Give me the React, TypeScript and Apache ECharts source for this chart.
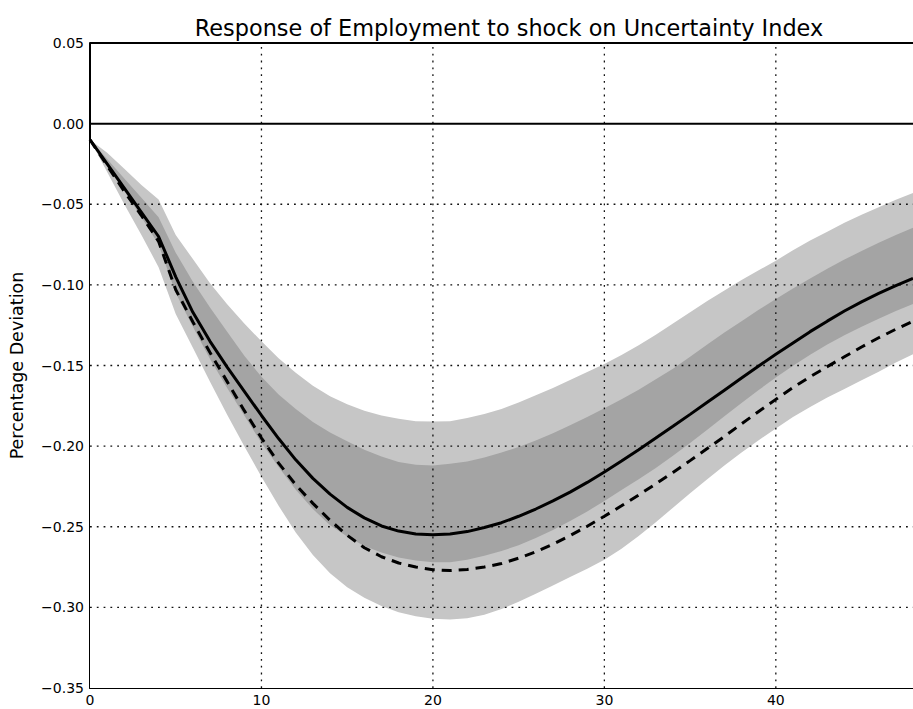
import React, { useEffect, useRef } from "react";
import * as echarts from "echarts";

const periods: number[] = Array.from({ length: 49 }, (_, i) => i);

const medianResponse: number[] = [
  -0.010, -0.025, -0.040, -0.055, -0.070, -0.095, -0.117, -0.135, -0.151, -0.166,
  -0.181, -0.1953, -0.2085, -0.220, -0.2298, -0.238, -0.2445, -0.2495, -0.2527, -0.2545,
  -0.255, -0.2545, -0.253, -0.2505, -0.2475, -0.2435, -0.239, -0.234, -0.2285, -0.2225,
  -0.216, -0.2092, -0.2022, -0.195, -0.1877, -0.1803, -0.1728, -0.1653, -0.1578, -0.1503,
  -0.143, -0.136, -0.129, -0.1225, -0.1162, -0.1105, -0.1053, -0.1005, -0.096,
];

const pointResponse: number[] = [
  -0.010, -0.026, -0.042, -0.057, -0.073, -0.103, -0.123, -0.142, -0.160, -0.178,
  -0.195, -0.2105, -0.224, -0.2355, -0.246, -0.2553, -0.263, -0.2686, -0.2725, -0.275,
  -0.2766, -0.2772, -0.2765, -0.275, -0.2728, -0.2695, -0.2656, -0.2608, -0.2555, -0.2497,
  -0.2435, -0.237, -0.2303, -0.2234, -0.2163, -0.209, -0.2015, -0.194, -0.1862, -0.1785,
  -0.171, -0.1637, -0.157, -0.1507, -0.1446, -0.1385, -0.1328, -0.1275, -0.1225,
];

const outerUpper: number[] = [
  -0.010, -0.018, -0.028, -0.038, -0.047, -0.069, -0.084, -0.099, -0.112, -0.124,
  -0.135, -0.1455, -0.1545, -0.1625, -0.169, -0.174, -0.178, -0.181, -0.183, -0.1845,
  -0.1848, -0.1845, -0.1825, -0.180, -0.177, -0.173, -0.1685, -0.164, -0.159, -0.154,
  -0.149, -0.1435, -0.1375, -0.131, -0.124, -0.117, -0.110, -0.1035, -0.097, -0.091,
  -0.085, -0.0785, -0.0725, -0.067, -0.0615, -0.0565, -0.0518, -0.0472, -0.043,
];

const innerUpper: number[] = [
  -0.010, -0.022, -0.034, -0.046, -0.058, -0.080, -0.098, -0.114, -0.129, -0.144,
  -0.157, -0.168, -0.177, -0.185, -0.1915, -0.197, -0.2022, -0.2065, -0.2098, -0.2115,
  -0.212, -0.211, -0.2095, -0.207, -0.204, -0.2005, -0.1965, -0.192, -0.187, -0.182,
  -0.1765, -0.171, -0.165, -0.1585, -0.152, -0.1445, -0.137, -0.1295, -0.1225, -0.1155,
  -0.1088, -0.1022, -0.096, -0.090, -0.0843, -0.079, -0.0738, -0.069, -0.0645,
];

const innerLower: number[] = [
  -0.010, -0.026, -0.042, -0.058, -0.075, -0.105, -0.126, -0.146, -0.164, -0.181,
  -0.198, -0.213, -0.227, -0.239, -0.249, -0.256, -0.262, -0.266, -0.269, -0.271,
  -0.272, -0.272, -0.2705, -0.268, -0.265, -0.2615, -0.257, -0.252, -0.2465, -0.2405,
  -0.234, -0.2272, -0.2205, -0.2135, -0.206, -0.198, -0.1898, -0.1815, -0.1733, -0.1652,
  -0.1575, -0.1502, -0.1434, -0.137, -0.1312, -0.126, -0.121, -0.1162, -0.1118,
];

const outerLower: number[] = [
  -0.010, -0.030, -0.050, -0.069, -0.089, -0.118, -0.139, -0.160, -0.1805, -0.2,
  -0.219, -0.237, -0.2535, -0.2675, -0.2788, -0.2875, -0.294, -0.2992, -0.303, -0.3055,
  -0.307, -0.3075, -0.3068, -0.3045, -0.301, -0.2965, -0.2915, -0.2865, -0.2812, -0.276,
  -0.2705, -0.2637, -0.2558, -0.2472, -0.2382, -0.2292, -0.2205, -0.212, -0.204, -0.1963,
  -0.189, -0.182, -0.1757, -0.1698, -0.1645, -0.1592, -0.1538, -0.1482, -0.143,
];

const yTicks = { min: -0.35, max: 0.05, step: 0.05 };
const xTicks = { min: 0, max: 48, step: 10 };
const xGridValues: number[] = [10, 20, 30, 40];
const yGridValues: number[] = [-0.3, -0.25, -0.2, -0.15, -0.1, -0.05];

const titleText = "Response of Employment to shock on Uncertainty Index";
const yName = "Percentage Deviation";

const FONT = "DejaVu Sans";
const LIGHT = "#c6c6c6";
const DARK = "#a4a4a4";

const pairs = (ys: number[]) => periods.map((x, i) => [x, ys[i]]);

export default function App() {
  const ref = useRef<HTMLDivElement>(null);
  useEffect(() => {
    if (!ref.current) return;
    const chart = echarts.init(ref.current, null, { renderer: "svg" });
    const band = (name: string, ys: number[], color: string) => ({
      type: "line",
      name,
      data: pairs(ys),
      symbol: "none",
      silent: true,
      z: 1,
      lineStyle: { width: 0, opacity: 0 },
      areaStyle: { color, opacity: 1, origin: "start" },
    });
    const dotted = { color: "#111", width: 1.3, type: [1.8, 5] };
    const gridSeries = (name: string, data: number[][], style: any) => ({
      type: "line",
      name,
      data,
      symbol: "none",
      silent: true,
      z: 4,
      lineStyle: style,
    });
    const solidFrame = { color: "#000", width: 2, type: "solid" };
    const gridLines = [
      ...xGridValues.map((v) =>
        gridSeries("gx" + v, [[v, yTicks.min], [v, yTicks.max]], dotted)
      ),
      ...yGridValues.map((v) =>
        gridSeries("gy" + v, [[xTicks.min, v], [xTicks.max, v]], dotted)
      ),
      gridSeries("zero", [[xTicks.min, 0], [xTicks.max, 0]], solidFrame),
      gridSeries("topFrame", [[xTicks.min, yTicks.max], [xTicks.max, yTicks.max]], solidFrame),
    ];
    chart.setOption({
      animation: false,
      backgroundColor: "#fff",
      title: {
        text: titleText,
        left: 504,
        textAlign: "center",
        top: 12,
        textStyle: { fontFamily: FONT, fontSize: 22.4, fontWeight: "normal", color: "#000" },
      },
      grid: { left: 89, top: 43, width: 830, height: 645, show: false },
      xAxis: {
        type: "value",
        min: xTicks.min,
        max: xTicks.max,
        interval: xTicks.step,
        position: "bottom",
        axisLine: { show: true, onZero: false, lineStyle: { color: "#000", width: 2 } },
        axisTick: { show: true, inside: true, length: 6, lineStyle: { color: "#000", width: 1 } },
        axisLabel: {
          show: true,
          showMaxLabel: false,
          margin: 5,
          fontFamily: FONT,
          fontSize: 14,
          color: "#000",
        },
        splitLine: { show: false },
      },
      yAxis: {
        type: "value",
        min: yTicks.min,
        max: yTicks.max,
        interval: yTicks.step,
        name: yName,
        nameLocation: "middle",
        nameRotate: 90,
        nameGap: 64,
        nameTextStyle: { fontFamily: FONT, fontSize: 17.5, color: "#000" },
        axisLine: { show: true, onZero: false, lineStyle: { color: "#000", width: 2 } },
        axisTick: { show: true, inside: true, length: 6, lineStyle: { color: "#000", width: 1 } },
        axisLabel: {
          margin: 6,
          fontFamily: FONT,
          fontSize: 14,
          color: "#000",
          formatter: (v: number) => {
            const s = (Math.round(v * 100) / 100).toFixed(2);
            return s === "-0.00" ? "0.00" : s.replace("-", "\u2212");
          },
        },
        splitLine: { show: false },
      },
      series: [
        band("outerUpper", outerUpper, LIGHT),
        band("innerUpper", innerUpper, DARK),
        band("innerLower", innerLower, LIGHT),
        band("outerLower", outerLower, "#ffffff"),
        ...gridLines,
        {
          type: "line",
          name: "median",
          data: pairs(medianResponse),
          symbol: "none",
          lineStyle: { color: "#000", width: 3 },
          z: 6,
        },
        {
          type: "line",
          name: "point",
          data: pairs(pointResponse),
          symbol: "none",
          lineStyle: { color: "#000", width: 3, type: [10, 7] },
          z: 6,
        },
      ],
    });
    return () => chart.dispose();
  }, []);
  return (
    <div
      ref={ref}
      style={{ position: "absolute", left: 0, top: 0, width: 913, height: 709, background: "#fff" }}
    />
  );
}
